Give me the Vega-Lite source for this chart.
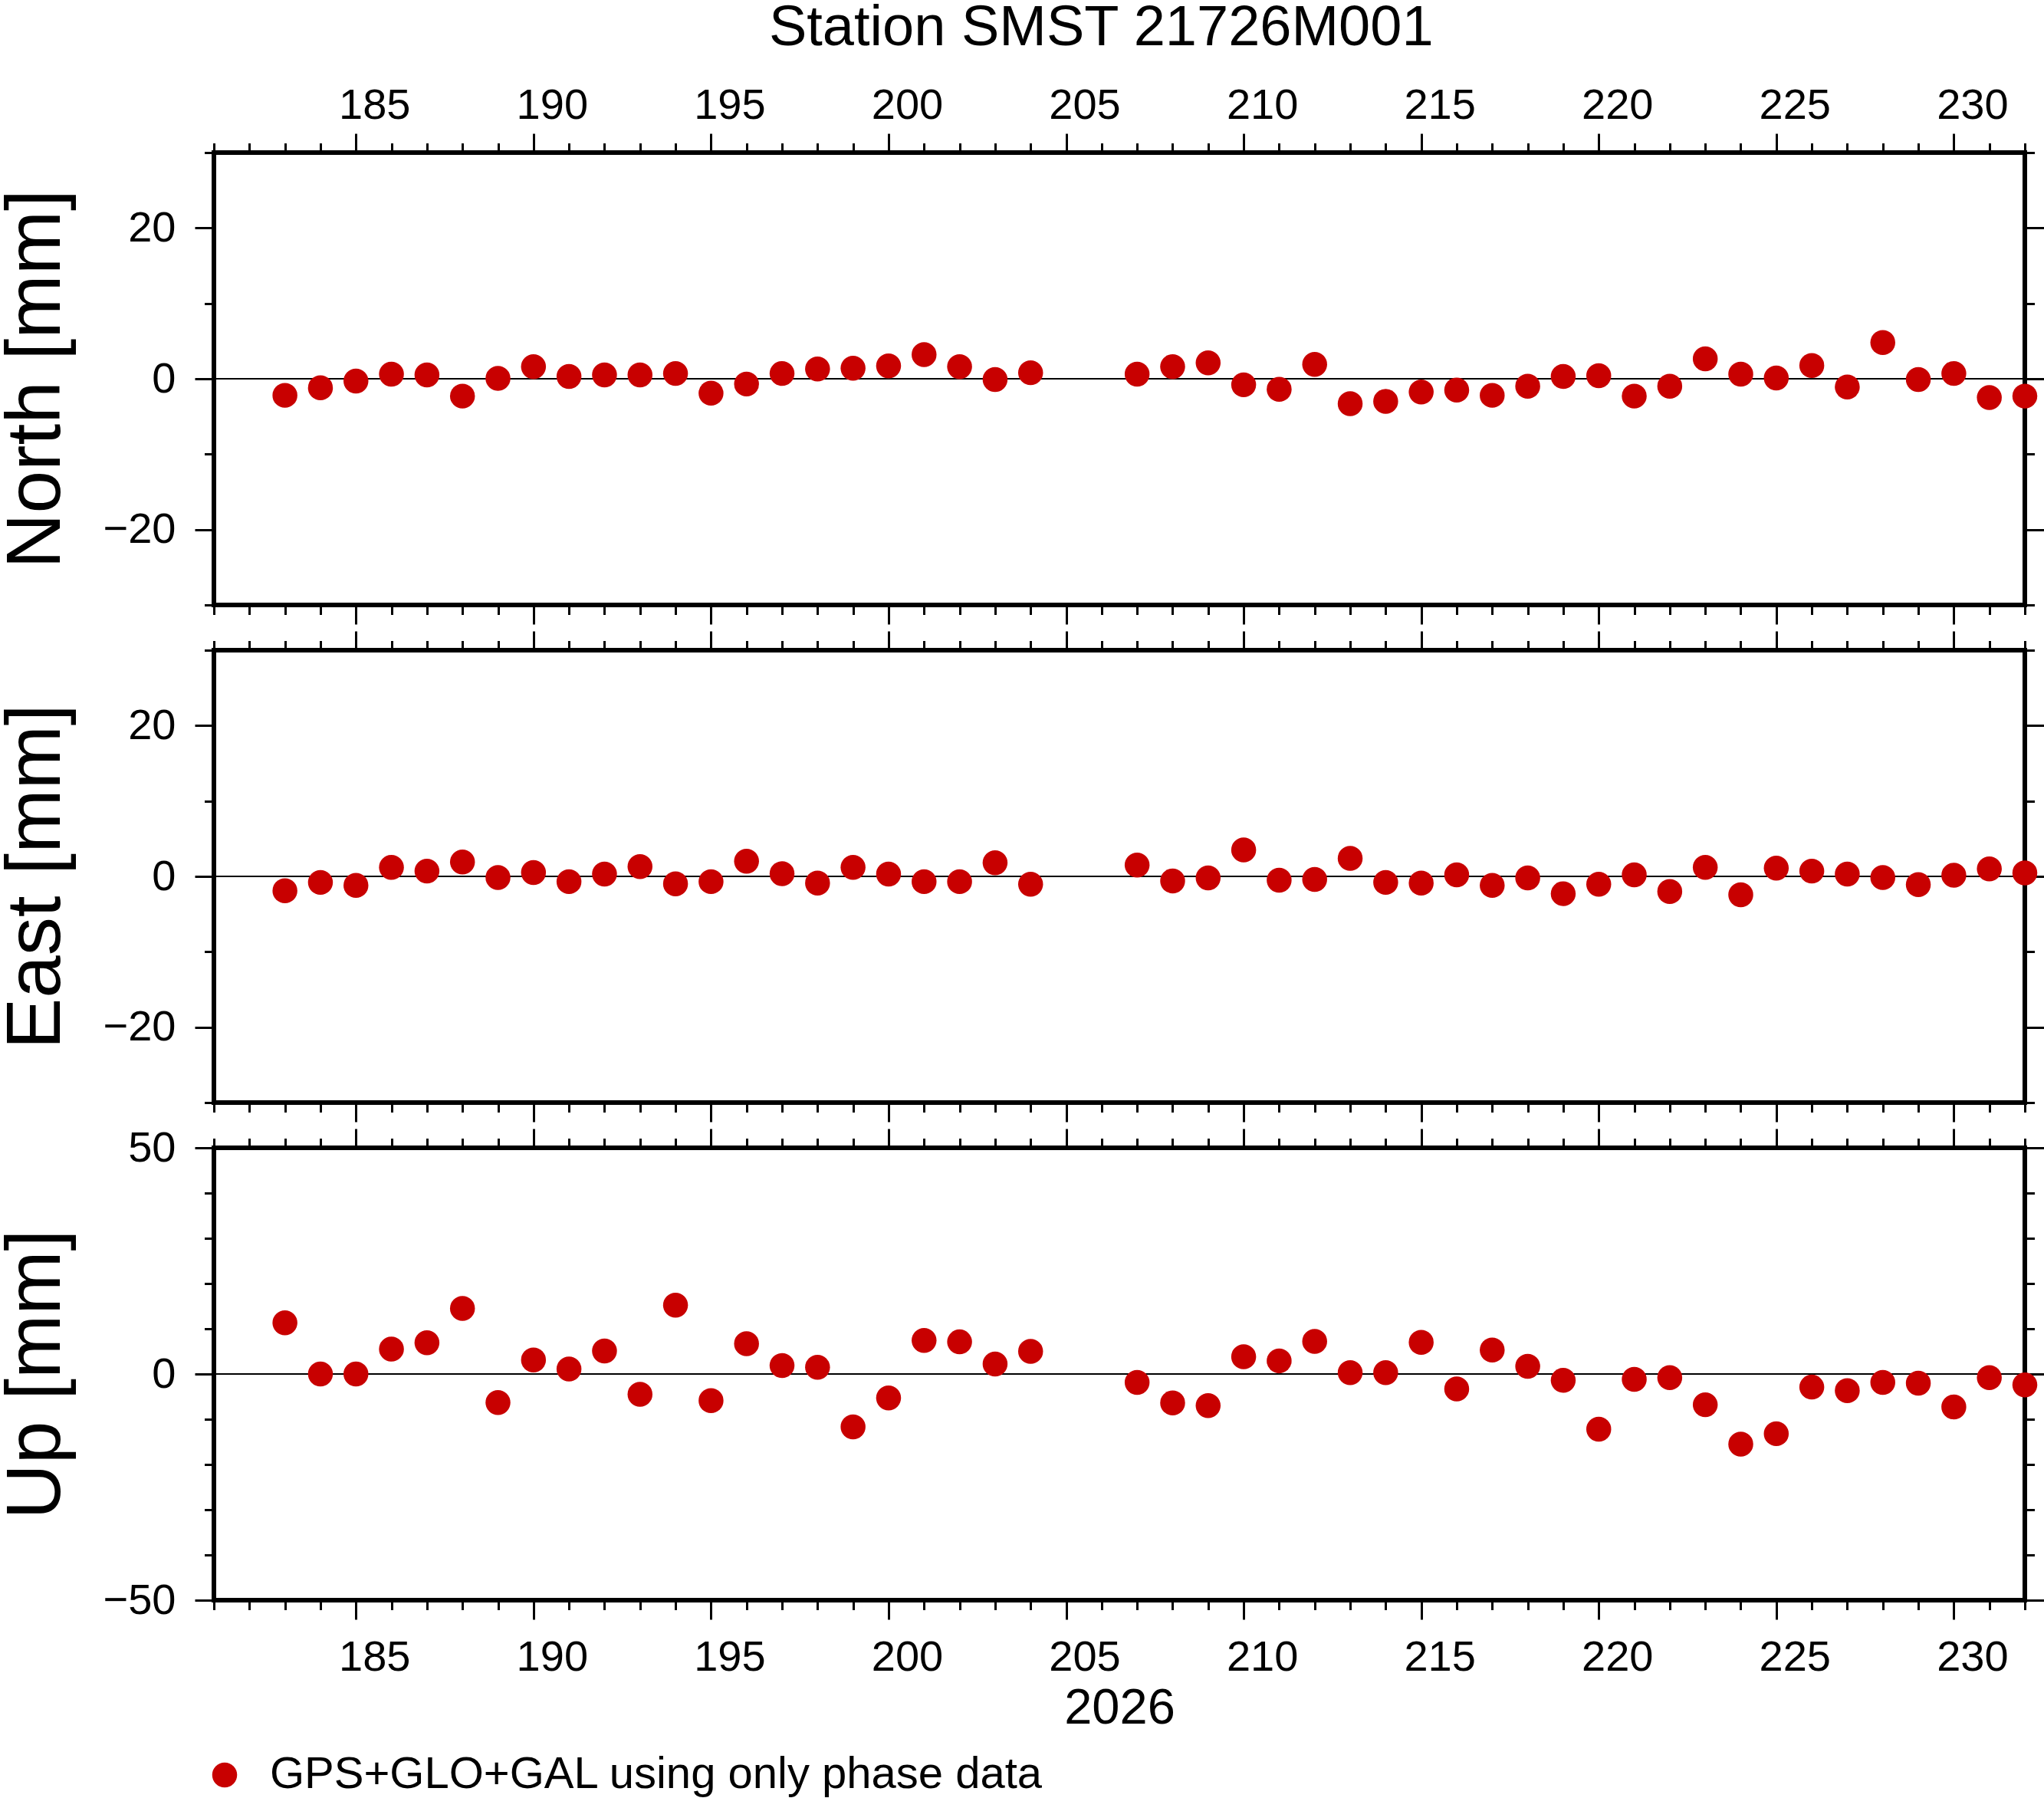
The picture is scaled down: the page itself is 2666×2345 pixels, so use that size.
{
  "$schema": "https://vega.github.io/schema/vega-lite/v6.json",
  "padding": {"left": -6, "top": 0, "right": 0, "bottom": 0},
  "background": "white",
  "title": {
    "text": "Station SMST 21726M001",
    "fontSize": 74,
    "fontWeight": "normal",
    "font": "Liberation Sans",
    "color": "black",
    "anchor": "middle",
    "baseline": "alphabetic",
    "offset": -27,
    "dx": 104
  },
  "data": {
    "values": [
      {"doy": 183, "north": -2.2, "east": -1.9, "up": 11.3},
      {"doy": 184, "north": -1.2, "east": -0.8, "up": 0.0},
      {"doy": 185, "north": -0.3, "east": -1.2, "up": 0.0},
      {"doy": 186, "north": 0.6, "east": 1.2, "up": 5.5},
      {"doy": 187, "north": 0.5, "east": 0.7, "up": 6.9},
      {"doy": 188, "north": -2.3, "east": 1.9, "up": 14.5},
      {"doy": 189, "north": 0.05, "east": -0.15, "up": -6.3},
      {"doy": 190, "north": 1.6, "east": 0.5, "up": 3.1},
      {"doy": 191, "north": 0.3, "east": -0.7, "up": 1.1},
      {"doy": 192, "north": 0.5, "east": 0.3, "up": 5.1},
      {"doy": 193, "north": 0.5, "east": 1.3, "up": -4.5},
      {"doy": 194, "north": 0.7, "east": -1.0, "up": 15.2},
      {"doy": 195, "north": -1.9, "east": -0.7, "up": -5.9},
      {"doy": 196, "north": -0.7, "east": 2.0, "up": 6.7},
      {"doy": 197, "north": 0.7, "east": 0.35, "up": 1.85},
      {"doy": 198, "north": 1.3, "east": -0.9, "up": 1.5},
      {"doy": 199, "north": 1.4, "east": 1.2, "up": -11.7},
      {"doy": 200, "north": 1.7, "east": 0.3, "up": -5.3},
      {"doy": 201, "north": 3.2, "east": -0.7, "up": 7.4},
      {"doy": 202, "north": 1.6, "east": -0.7, "up": 7.1},
      {"doy": 203, "north": -0.1, "east": 1.8, "up": 2.2},
      {"doy": 204, "north": 0.8, "east": -1.05, "up": 5.0},
      {"doy": 207, "north": 0.6, "east": 1.5, "up": -1.85},
      {"doy": 208, "north": 1.6, "east": -0.6, "up": -6.4},
      {"doy": 209, "north": 2.1, "east": -0.2, "up": -7.0},
      {"doy": 210, "north": -0.8, "east": 3.5, "up": 3.8},
      {"doy": 211, "north": -1.4, "east": -0.5, "up": 2.9},
      {"doy": 212, "north": 1.9, "east": -0.4, "up": 7.2},
      {"doy": 213, "north": -3.3, "east": 2.4, "up": 0.3},
      {"doy": 214, "north": -3.0, "east": -0.8, "up": 0.3},
      {"doy": 215, "north": -1.75, "east": -0.9, "up": 7.0},
      {"doy": 216, "north": -1.5, "east": 0.2, "up": -3.3},
      {"doy": 217, "north": -2.2, "east": -1.2, "up": 5.3},
      {"doy": 218, "north": -1.0, "east": -0.2, "up": 1.7},
      {"doy": 219, "north": 0.3, "east": -2.3, "up": -1.4},
      {"doy": 220, "north": 0.4, "east": -1.05, "up": -12.2},
      {"doy": 221, "north": -2.3, "east": 0.2, "up": -1.2},
      {"doy": 222, "north": -1.0, "east": -2.0, "up": -0.8},
      {"doy": 223, "north": 2.65, "east": 1.2, "up": -6.8},
      {"doy": 224, "north": 0.6, "east": -2.45, "up": -15.5},
      {"doy": 225, "north": 0.1, "east": 1.1, "up": -13.2},
      {"doy": 226, "north": 1.75, "east": 0.7, "up": -2.9},
      {"doy": 227, "north": -1.1, "east": 0.3, "up": -3.7},
      {"doy": 228, "north": 4.8, "east": -0.15, "up": -1.85},
      {"doy": 229, "north": -0.1, "east": -1.1, "up": -2.05},
      {"doy": 230, "north": 0.7, "east": 0.15, "up": -7.3},
      {"doy": 231, "north": -2.5, "east": 1.0, "up": -0.8},
      {"doy": 232, "north": -2.3, "east": 0.45, "up": -2.4}
    ]
  },
  "bounds": "flush",
  "spacing": 59,
  "vconcat": [
    {
      "width": 2362,
      "height": 590,
      "layer": [
        {
          "mark": {"type": "rule", "color": "black", "strokeWidth": 1.2},
          "encoding": {"y": {"datum": 0, "type": "quantitative", "scale": {"domain": [-30, 30], "nice": false}, "axis": null}}
        },
        {
          "mark": {"type": "circle", "size": 1055, "opacity": 1},
          "encoding": {
            "x": {"field": "doy", "type": "quantitative", "scale": {"domain": [181, 232], "nice": false, "zero": false},
              "axis": {"orient": "top", "values": [185, 190, 195, 200, 205, 210, 215, 220, 225, 230], "tickSize": 25, "labelOffset": 24, "labelPadding": 8, "title": null}},
            "y": {"field": "north", "type": "quantitative", "scale": {"domain": [-30, 30], "nice": false},
              "axis": {"orient": "left", "values": [-20, 0, 20], "tickSize": 25, "labelPadding": 25, "title": "North [mm]", "titleFontSize": 100, "titlePadding": 36}},
            "color": {"datum": "GPS+GLO+GAL using only phase data", "type": "nominal", "scale": {"range": ["#c80000"]},
              "legend": {"orient": "bottom", "title": null, "padding": 0, "labelFontSize": 58, "labelFont": "Liberation Sans", "labelColor": "black", "labelLimit": 1500, "symbolType": "circle", "symbolSize": 1055, "symbolStrokeWidth": 0, "symbolOpacity": 1, "symbolOffset": -15, "labelOffset": 30, "offset": 23}}
          }
        },
        {
          "mark": {"type": "circle", "opacity": 0},
          "encoding": {
            "x": {"field": "doy", "type": "quantitative", "scale": {"domain": [181, 232], "nice": false, "zero": false},
              "axis": {"orient": "top", "values": [181, 182, 183, 184, 185, 186, 187, 188, 189, 190, 191, 192, 193, 194, 195, 196, 197, 198, 199, 200, 201, 202, 203, 204, 205, 206, 207, 208, 209, 210, 211, 212, 213, 214, 215, 216, 217, 218, 219, 220, 221, 222, 223, 224, 225, 226, 227, 228, 229, 230, 231, 232], "tickSize": 12.5, "labels": false, "title": null}},
            "y": {"field": "north", "type": "quantitative", "scale": {"domain": [-30, 30], "nice": false},
              "axis": {"orient": "left", "values": [-30, -20, -10, 0, 10, 20, 30], "tickSize": 12.5, "labels": false, "title": null}}
          }
        },
        {
          "mark": {"type": "circle", "opacity": 0},
          "encoding": {
            "x": {"field": "doy", "type": "quantitative", "scale": {"domain": [181, 232], "nice": false, "zero": false},
              "axis": {"orient": "bottom", "values": [185, 190, 195, 200, 205, 210, 215, 220, 225, 230], "tickSize": 25, "labels": false, "title": null}},
            "y": {"field": "north", "type": "quantitative", "scale": {"domain": [-30, 30], "nice": false},
              "axis": {"orient": "right", "values": [-20, 0, 20], "tickSize": 25, "labels": false, "title": null}}
          }
        },
        {
          "mark": {"type": "circle", "opacity": 0},
          "encoding": {
            "x": {"field": "doy", "type": "quantitative", "scale": {"domain": [181, 232], "nice": false, "zero": false},
              "axis": {"orient": "bottom", "values": [181, 182, 183, 184, 185, 186, 187, 188, 189, 190, 191, 192, 193, 194, 195, 196, 197, 198, 199, 200, 201, 202, 203, 204, 205, 206, 207, 208, 209, 210, 211, 212, 213, 214, 215, 216, 217, 218, 219, 220, 221, 222, 223, 224, 225, 226, 227, 228, 229, 230, 231, 232], "tickSize": 12.5, "labels": false, "title": null}},
            "y": {"field": "north", "type": "quantitative", "scale": {"domain": [-30, 30], "nice": false},
              "axis": {"orient": "right", "values": [-30, -20, -10, 0, 10, 20, 30], "tickSize": 12.5, "labels": false, "title": null}}
          }
        }
      ],
      "resolve": {"axis": {"x": "independent", "y": "independent"}}
    },
    {
      "width": 2362,
      "height": 590,
      "layer": [
        {
          "mark": {"type": "rule", "color": "black", "strokeWidth": 1.2},
          "encoding": {"y": {"datum": 0, "type": "quantitative", "scale": {"domain": [-30, 30], "nice": false}, "axis": null}}
        },
        {
          "mark": {"type": "circle", "size": 1055, "opacity": 1},
          "encoding": {
            "x": {"field": "doy", "type": "quantitative", "scale": {"domain": [181, 232], "nice": false, "zero": false},
              "axis": {"orient": "top", "values": [185, 190, 195, 200, 205, 210, 215, 220, 225, 230], "tickSize": 25, "labels": false, "title": null}},
            "y": {"field": "east", "type": "quantitative", "scale": {"domain": [-30, 30], "nice": false},
              "axis": {"orient": "left", "values": [-20, 0, 20], "tickSize": 25, "labelPadding": 25, "title": "East [mm]", "titleFontSize": 100, "titlePadding": 36}},
            "color": {"datum": "GPS+GLO+GAL using only phase data", "type": "nominal", "scale": {"range": ["#c80000"]}}
          }
        },
        {
          "mark": {"type": "circle", "opacity": 0},
          "encoding": {
            "x": {"field": "doy", "type": "quantitative", "scale": {"domain": [181, 232], "nice": false, "zero": false},
              "axis": {"orient": "top", "values": [181, 182, 183, 184, 185, 186, 187, 188, 189, 190, 191, 192, 193, 194, 195, 196, 197, 198, 199, 200, 201, 202, 203, 204, 205, 206, 207, 208, 209, 210, 211, 212, 213, 214, 215, 216, 217, 218, 219, 220, 221, 222, 223, 224, 225, 226, 227, 228, 229, 230, 231, 232], "tickSize": 12.5, "labels": false, "title": null}},
            "y": {"field": "east", "type": "quantitative", "scale": {"domain": [-30, 30], "nice": false},
              "axis": {"orient": "left", "values": [-30, -20, -10, 0, 10, 20, 30], "tickSize": 12.5, "labels": false, "title": null}}
          }
        },
        {
          "mark": {"type": "circle", "opacity": 0},
          "encoding": {
            "x": {"field": "doy", "type": "quantitative", "scale": {"domain": [181, 232], "nice": false, "zero": false},
              "axis": {"orient": "bottom", "values": [185, 190, 195, 200, 205, 210, 215, 220, 225, 230], "tickSize": 25, "labels": false, "title": null}},
            "y": {"field": "east", "type": "quantitative", "scale": {"domain": [-30, 30], "nice": false},
              "axis": {"orient": "right", "values": [-20, 0, 20], "tickSize": 25, "labels": false, "title": null}}
          }
        },
        {
          "mark": {"type": "circle", "opacity": 0},
          "encoding": {
            "x": {"field": "doy", "type": "quantitative", "scale": {"domain": [181, 232], "nice": false, "zero": false},
              "axis": {"orient": "bottom", "values": [181, 182, 183, 184, 185, 186, 187, 188, 189, 190, 191, 192, 193, 194, 195, 196, 197, 198, 199, 200, 201, 202, 203, 204, 205, 206, 207, 208, 209, 210, 211, 212, 213, 214, 215, 216, 217, 218, 219, 220, 221, 222, 223, 224, 225, 226, 227, 228, 229, 230, 231, 232], "tickSize": 12.5, "labels": false, "title": null}},
            "y": {"field": "east", "type": "quantitative", "scale": {"domain": [-30, 30], "nice": false},
              "axis": {"orient": "right", "values": [-30, -20, -10, 0, 10, 20, 30], "tickSize": 12.5, "labels": false, "title": null}}
          }
        }
      ],
      "resolve": {"axis": {"x": "independent", "y": "independent"}}
    },
    {
      "width": 2362,
      "height": 590,
      "layer": [
        {
          "mark": {"type": "rule", "color": "black", "strokeWidth": 1.2},
          "encoding": {"y": {"datum": 0, "type": "quantitative", "scale": {"domain": [-50, 50], "nice": false}, "axis": null}}
        },
        {
          "mark": {"type": "circle", "size": 1055, "opacity": 1},
          "encoding": {
            "x": {"field": "doy", "type": "quantitative", "scale": {"domain": [181, 232], "nice": false, "zero": false},
              "axis": {"orient": "bottom", "values": [185, 190, 195, 200, 205, 210, 215, 220, 225, 230], "tickSize": 25, "labelOffset": 24, "labelPadding": 22, "title": "2026", "titleFontSize": 65, "titlePadding": 7}},
            "y": {"field": "up", "type": "quantitative", "scale": {"domain": [-50, 50], "nice": false},
              "axis": {"orient": "left", "values": [-50, 0, 50], "tickSize": 25, "labelPadding": 25, "title": "Up [mm]", "titleFontSize": 100, "titlePadding": 36}},
            "color": {"datum": "GPS+GLO+GAL using only phase data", "type": "nominal", "scale": {"range": ["#c80000"]}}
          }
        },
        {
          "mark": {"type": "circle", "opacity": 0},
          "encoding": {
            "x": {"field": "doy", "type": "quantitative", "scale": {"domain": [181, 232], "nice": false, "zero": false},
              "axis": {"orient": "bottom", "values": [181, 182, 183, 184, 185, 186, 187, 188, 189, 190, 191, 192, 193, 194, 195, 196, 197, 198, 199, 200, 201, 202, 203, 204, 205, 206, 207, 208, 209, 210, 211, 212, 213, 214, 215, 216, 217, 218, 219, 220, 221, 222, 223, 224, 225, 226, 227, 228, 229, 230, 231, 232], "tickSize": 12.5, "labels": false, "title": null}},
            "y": {"field": "up", "type": "quantitative", "scale": {"domain": [-50, 50], "nice": false},
              "axis": {"orient": "left", "values": [-50, -40, -30, -20, -10, 0, 10, 20, 30, 40, 50], "tickSize": 12.5, "labels": false, "title": null}}
          }
        },
        {
          "mark": {"type": "circle", "opacity": 0},
          "encoding": {
            "x": {"field": "doy", "type": "quantitative", "scale": {"domain": [181, 232], "nice": false, "zero": false},
              "axis": {"orient": "top", "values": [185, 190, 195, 200, 205, 210, 215, 220, 225, 230], "tickSize": 25, "labels": false, "title": null}},
            "y": {"field": "up", "type": "quantitative", "scale": {"domain": [-50, 50], "nice": false},
              "axis": {"orient": "right", "values": [-50, 0, 50], "tickSize": 25, "labels": false, "title": null}}
          }
        },
        {
          "mark": {"type": "circle", "opacity": 0},
          "encoding": {
            "x": {"field": "doy", "type": "quantitative", "scale": {"domain": [181, 232], "nice": false, "zero": false},
              "axis": {"orient": "top", "values": [181, 182, 183, 184, 185, 186, 187, 188, 189, 190, 191, 192, 193, 194, 195, 196, 197, 198, 199, 200, 201, 202, 203, 204, 205, 206, 207, 208, 209, 210, 211, 212, 213, 214, 215, 216, 217, 218, 219, 220, 221, 222, 223, 224, 225, 226, 227, 228, 229, 230, 231, 232], "tickSize": 12.5, "labels": false, "title": null}},
            "y": {"field": "up", "type": "quantitative", "scale": {"domain": [-50, 50], "nice": false},
              "axis": {"orient": "right", "values": [-50, -40, -30, -20, -10, 0, 10, 20, 30, 40, 50], "tickSize": 12.5, "labels": false, "title": null}}
          }
        }
      ],
      "resolve": {"axis": {"x": "independent", "y": "independent"}}
    }
  ],
  "config": {
    "font": "Liberation Sans",
    "view": {"stroke": "black", "strokeWidth": 6},
    "axis": {
      "domain": false,
      "grid": false,
      "tickColor": "black",
      "tickWidth": 3,
      "labelColor": "black",
      "labelFont": "Liberation Sans",
      "labelFontSize": 56,
      "labelFlush": false,
      "labelOverlap": false,
      "titleColor": "black",
      "titleFont": "Liberation Sans",
      "titleFontWeight": "normal"
    }
  }
}
